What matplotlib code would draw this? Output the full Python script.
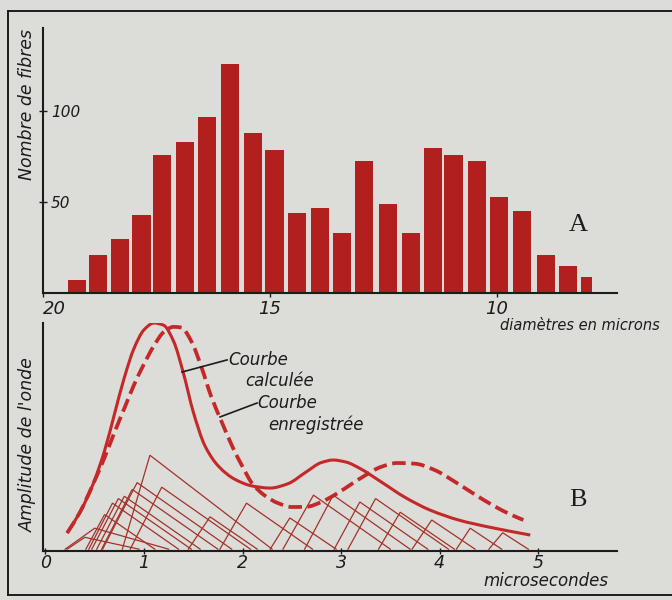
import matplotlib
matplotlib.use("Agg")
import matplotlib.pyplot as plt
from matplotlib.lines import Line2D
from matplotlib.path import Path
from matplotlib.patches import PathPatch

# ---------------- data ----------------
# A: histogram of fibre diameters (microns) -> number of fibres
diameters = [19.24, 18.77, 18.29, 17.82, 17.36, 16.86, 16.38, 15.87, 15.36, 14.89,
             14.39, 13.89, 13.40, 12.92, 12.40, 11.89, 11.41, 10.95, 10.44, 9.94,
             9.44, 8.92, 8.43, 8.03]
fibres = [7, 21, 30, 43, 76, 83, 97, 126, 88, 79,
          44, 47, 33, 73, 49, 33, 80, 76, 73, 53,
          45, 21, 15, 9]
bar_widths = [0.40] * 23 + [0.24]
diam_ticks = [20, 15, 10]
diam_ticklabels = ["20", "15", "10"]
fib_ticks = [50, 100]
fib_ticklabels = ["50", "100"]

# B: wave amplitude vs time (microseconds)
t_calc = [0.22, 0.35, 0.48, 0.60, 0.70, 0.80, 0.90, 1.00, 1.10, 1.20, 1.30, 1.40, 1.50,
          1.62, 1.76, 1.92, 2.10, 2.28, 2.46, 2.64, 2.80, 2.92, 3.05, 3.20, 3.40, 3.65,
          3.90, 4.20, 4.50, 4.92]
a_calc = [7.9, 17, 29, 44, 60, 76, 89, 97, 100, 99, 92, 78, 61,
          46, 37, 31.5, 28.5, 27.6, 29.5, 34.5, 38.8, 39.9, 39.0, 36.0, 30.5, 23.5,
          18, 13.5, 10.5, 7.0]

t_rec = [0.22, 0.35, 0.48, 0.60, 0.70, 0.80, 0.90, 1.00, 1.10, 1.20, 1.30, 1.38, 1.48,
         1.58, 1.68, 1.79, 1.90, 2.00, 2.10, 2.22, 2.36, 2.50, 2.65, 2.80, 2.95, 3.10,
         3.25, 3.40, 3.57, 3.75, 3.95, 4.15, 4.35, 4.55, 4.72, 4.85]
a_rec = [7.9, 17, 29, 41, 52, 62.5, 73, 82, 90, 96, 98.3, 98, 92,
         81, 68, 56.5, 45.5, 37, 29.5, 24.5, 21, 19.3, 19.4, 21.5, 25, 29.2,
         33.3, 36.8, 38.6, 38.3, 35.5, 30.5, 25, 19.8, 16, 13.6]

# individual fibre contributions (start, peak time, peak amplitude, end)
tent_start = [0.20, 0.22, 0.41, 0.44, 0.47, 0.52, 0.57, 0.58, 0.78, 0.86, 1.45, 1.77,
              2.28, 2.41, 2.63, 2.93, 3.07, 3.38, 3.72, 4.17, 4.50]
tent_peak = [0.50, 0.40, 0.60, 0.68, 0.74, 0.80, 0.88, 0.93, 1.06, 1.18, 1.67, 2.04,
             2.48, 2.72, 2.92, 3.19, 3.35, 3.60, 3.92, 4.31, 4.64]
tent_amp = [10, 6, 16, 21, 23, 24, 27, 30, 42, 28, 15, 21,
            14.5, 24.5, 24.5, 21.5, 23, 17, 13.6, 10, 8]
tent_end = [1.25, 0.95, 1.11, 1.35, 1.48, 1.57, 1.75, 1.89, 2.30, 2.08, 2.15, 2.71,
            2.95, 3.50, 3.70, 3.88, 4.09, 4.15, 4.36, 4.63, 4.90]
time_ticks = [0, 1, 2, 3, 4, 5]
time_ticklabels = ["0", "1", "2", "3", "4", "5"]

# ---------------- style ----------------
paper = "#dcdcd8"
bar_red = "#b21f1f"
curve_red = "#c42828"
tent_red = "#a3322a"
ink = "#1c1c1c"

W, H = 672, 600
fig = plt.figure(figsize=(W / 100, H / 100), dpi=100, facecolor=paper)


def fx(px):
    return px / W


def fy(py):
    return (H - py) / H


def smooth_path(xs, ys):
    """Monotone cubic Hermite (Fritsch-Carlson) curve through the knots, as Bezier path."""
    n = len(xs)
    d = [(ys[i + 1] - ys[i]) / (xs[i + 1] - xs[i]) for i in range(n - 1)]
    m = [0.0] * n
    m[0], m[-1] = d[0], d[-1]
    for i in range(1, n - 1):
        if d[i - 1] * d[i] <= 0:
            m[i] = 0.0
        else:
            h0 = xs[i] - xs[i - 1]
            h1 = xs[i + 1] - xs[i]
            w1, w2 = 2 * h1 + h0, h1 + 2 * h0
            m[i] = (w1 + w2) / (w1 / d[i - 1] + w2 / d[i])
    verts = [(xs[0], ys[0])]
    codes = [Path.MOVETO]
    for i in range(n - 1):
        h = xs[i + 1] - xs[i]
        verts += [(xs[i] + h / 3, ys[i] + m[i] * h / 3),
                  (xs[i + 1] - h / 3, ys[i + 1] - m[i + 1] * h / 3),
                  (xs[i + 1], ys[i + 1])]
        codes += [Path.CURVE4] * 3
    return Path(verts, codes)


# outer frame
for (x0, y0, x1, y1) in [(8, 11, 672, 11), (8, 11, 8, 595), (8, 595, 672, 595)]:
    fig.add_artist(Line2D([fx(x0), fx(x1)], [fy(y0), fy(y1)], color=ink, lw=1.4,
                          transform=fig.transFigure))

tick_font = dict(family="DejaVu Sans", style="italic")

# ---------------- A ----------------
ax1 = fig.add_axes([fx(42.5), fy(293), fx(617) - fx(42.5), fy(28) - fy(293)])
ax1.set_facecolor("none")
ax1.bar(diameters, fibres, width=bar_widths, color=bar_red, edgecolor="none")
ax1.set_xlim(20.0, 7.35)
ax1.set_ylim(0, 146)
for s in ["top", "right"]:
    ax1.spines[s].set_visible(False)
for s in ["left", "bottom"]:
    ax1.spines[s].set_color(ink)
    ax1.spines[s].set_linewidth(1.5)
ax1.set_xticks(diam_ticks)
ax1.set_xticklabels(diam_ticklabels, fontsize=13, **tick_font)
ax1.set_yticks(fib_ticks)
ax1.set_yticklabels(fib_ticklabels, fontsize=11, **tick_font)
ax1.tick_params(axis="x", direction="out", length=3, width=1, color=ink, pad=2, labelcolor=ink)
ax1.tick_params(axis="y", direction="inout", length=6, width=1, color=ink, pad=-9, labelcolor=ink)
for lbl in ax1.get_yticklabels():
    lbl.set_horizontalalignment("left")
ax1.get_xticklabels()[0].set_horizontalalignment("left")

fig.text(fx(27.5), fy(105), "Nombre de fibres", rotation=90, ha="center", va="center",
         fontsize=12.5, color=ink, **tick_font)
fig.text(fx(500), fy(325), "diamètres en microns", ha="left", va="center",
         fontsize=10.5, color=ink, **tick_font)
fig.text(fx(578), fy(225), "A", ha="center", va="center", fontsize=19,
         family="Liberation Serif", color=ink)

# ---------------- B ----------------
ax2 = fig.add_axes([fx(42.5), fy(551), fx(617) - fx(42.5), fy(323) - fy(551)])
ax2.set_facecolor("none")
ax2.set_xlim(-0.03, 5.80)
ax2.set_ylim(0, 100)
for s in ["top", "right"]:
    ax2.spines[s].set_visible(False)
for s in ["left", "bottom"]:
    ax2.spines[s].set_color(ink)
    ax2.spines[s].set_linewidth(1.5)
ax2.set_yticks([])
ax2.set_xticks(time_ticks)
ax2.set_xticklabels(time_ticklabels, fontsize=12.5, **tick_font)
ax2.tick_params(axis="x", direction="inout", length=5, width=1, color=ink, pad=0, labelcolor=ink)

for s0, tp, a, s1 in zip(tent_start, tent_peak, tent_amp, tent_end):
    ax2.plot([s0, tp, s1], [0.8, a, 0.8], color=tent_red, lw=0.9, solid_joinstyle="miter")

ax2.add_patch(PathPatch(smooth_path(t_rec, a_rec), fill=False, edgecolor=curve_red,
                        lw=2.7, linestyle=(0, (3.6, 1.5)), capstyle="butt"))
ax2.add_patch(PathPatch(smooth_path(t_calc, a_calc), fill=False, edgecolor=curve_red,
                        lw=2.2, joinstyle="round"))

# annotations
ax2.plot([1.386, 1.843], [78.5, 83.8], color=ink, lw=1.2)
ax2.plot([1.772, 2.147], [58.8, 64.9], color=ink, lw=1.2)
ax2.text(1.853, 83.8, "Courbe", ha="left", va="center", fontsize=12, color=ink, **tick_font)
ax2.text(2.025, 74.6, "calculée", ha="left", va="center", fontsize=12, color=ink, **tick_font)
ax2.text(2.147, 64.9, "Courbe", ha="left", va="center", fontsize=12, color=ink, **tick_font)
ax2.text(2.26, 55.3, "enregistrée", ha="left", va="center", fontsize=12, color=ink, **tick_font)

fig.text(fx(28), fy(445), "Amplitude de l'onde", rotation=90, ha="center", va="center",
         fontsize=12.5, color=ink, **tick_font)
fig.text(fx(483), fy(581), "microsecondes", ha="left", va="center",
         fontsize=12, color=ink, **tick_font)
fig.text(fx(578), fy(500), "B", ha="center", va="center", fontsize=19,
         family="Liberation Serif", color=ink)

fig.savefig("out.png", dpi=100, facecolor=paper)
